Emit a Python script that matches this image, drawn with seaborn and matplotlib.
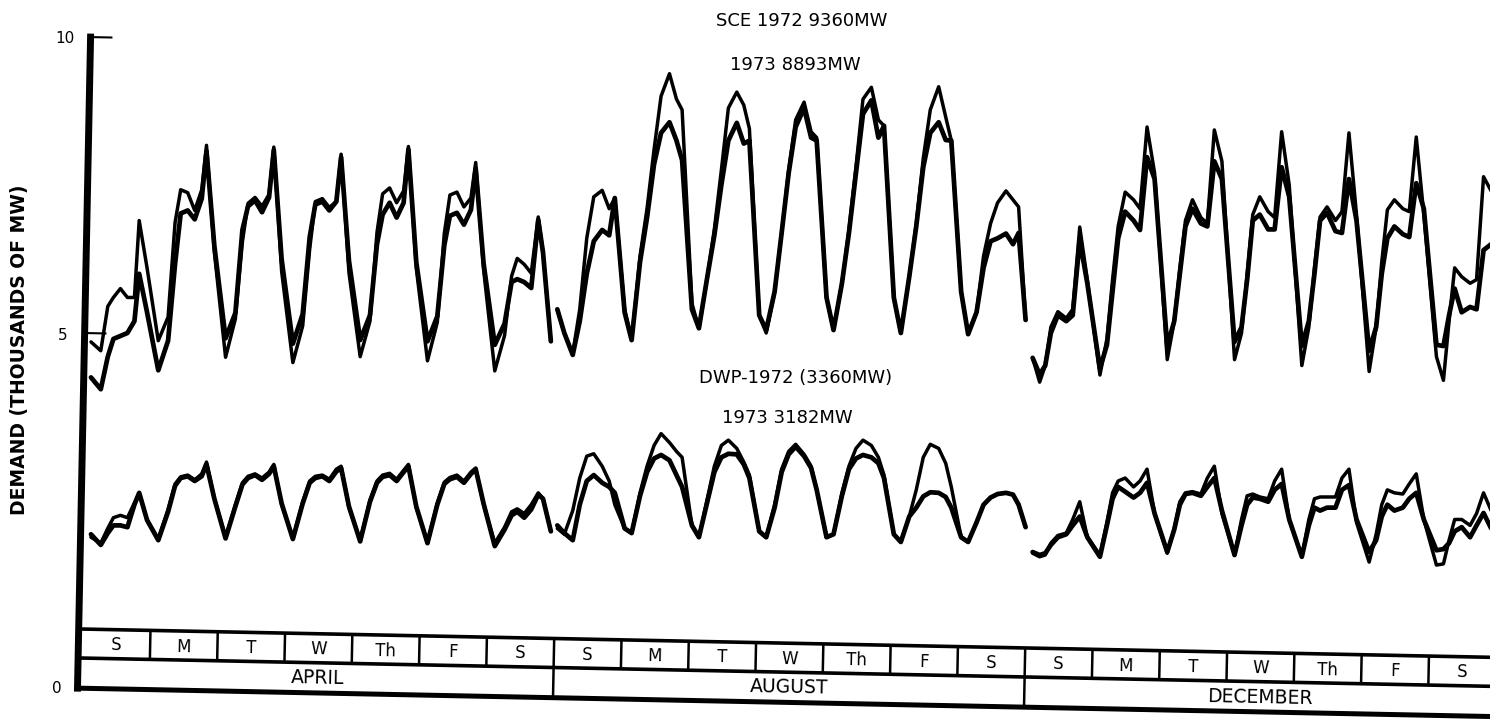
import matplotlib
matplotlib.use("Agg")
import matplotlib.pyplot as plt
import matplotlib.transforms as mtransforms
import pandas as pd
import seaborn as sns

# ---------------- data ----------------
# hour-of-day sample offsets used for each week (chart time frame)
GRID_APR = [3.2, 6.7, 9.2, 11.2, 13.7, 16.2, 18.7, 20.4, 23.2]
GRID_AUG = [1.5, 4, 7, 9.5, 12, 14.5, 17.5, 20, 22]
GRID_DEC = [3, 5.5, 7.5, 9.5, 12, 15, 17.3, 19.8, 22.5]
WEEK_START = {"APRIL": 0, "AUGUST": 168, "DECEMBER": 336}
AUG_TAIL = [168.5]          # August trace ends just after its last sample

days = ["S", "M", "T", "W", "Th", "F", "S"]
months = ["APRIL", "AUGUST", "DECEMBER"]

# SCE demand, thousands of MW
sce72_apr = [4.85, 4.7, 5.45, 5.6, 5.75, 5.6, 5.6, 6.9, 6.1,
             4.87, 5.27, 6.87, 7.42, 7.37, 7.07, 7.42, 8.17, 6.37,
             4.59, 5.24, 6.54, 7.19, 7.29, 7.14, 7.34, 8.14, 6.04,
             4.5, 5.12, 6.42, 7.22, 7.27, 7.12, 7.22, 8.02, 6.02,
             4.6, 5.2, 6.7, 7.35, 7.45, 7.2, 7.4, 8.15, 6.1,
             4.53, 5.18, 6.68, 7.33, 7.38, 7.13, 7.28, 7.88, 6.08,
             4.36, 4.96, 5.96, 6.26, 6.16, 6.01, 6.96, 6.36, 4.86]
sce73_apr = [4.25, 4.05, 4.6, 4.9, 4.95, 5.0, 5.2, 6.0, 5.35,
             4.37, 4.87, 6.17, 7.02, 7.07, 6.92, 7.27, 8.07, 6.47,
             4.91, 5.34, 6.74, 7.14, 7.24, 7.04, 7.29, 8.09, 6.24,
             4.82, 5.32, 6.62, 7.17, 7.22, 7.07, 7.22, 7.97, 6.22,
             4.88, 5.3, 6.5, 7.0, 7.2, 6.95, 7.2, 8.1, 6.2,
             4.86, 5.28, 6.48, 6.98, 7.03, 6.83, 7.08, 7.78, 6.18,
             4.8, 5.16, 5.86, 5.91, 5.86, 5.76, 6.91, 6.36, 4.86]
sce72_aug = [5.4, 5.0, 4.65, 5.4, 6.6, 7.3, 7.41, 7.1, 7.28,
             5.4, 4.88, 6.3, 7.1, 8.1, 9.0, 9.38, 8.95, 8.77,
             5.5, 5.08, 5.95, 6.75, 7.75, 8.8, 9.07, 8.85, 8.45,
             5.3, 5.0, 5.7, 6.7, 7.75, 8.6, 8.9, 8.4, 8.3,
             5.6, 5.05, 5.84, 6.75, 7.8, 8.95, 9.15, 8.6, 8.5,
             5.6, 5.0, 5.95, 6.85, 7.95, 8.77, 9.16, 8.65, 8.25,
             5.7, 4.98, 5.35, 6.3, 6.85, 7.2, 7.4, 7.25, 7.13,
             5.22]
sce73_aug = [5.4, 5.0, 4.63, 5.2, 6.0, 6.55, 6.74, 6.65, 7.28,
             5.35, 4.88, 6.2, 6.95, 7.85, 8.38, 8.56, 8.25, 7.92,
             5.4, 5.08, 5.95, 6.65, 7.5, 8.25, 8.55, 8.2, 8.25,
             5.3, 5.05, 5.7, 6.69, 7.7, 8.48, 8.8, 8.3, 8.25,
             5.6, 5.05, 5.84, 6.69, 7.7, 8.7, 8.93, 8.3, 8.5,
             5.6, 5.0, 5.95, 6.8, 7.8, 8.38, 8.56, 8.26, 8.25,
             5.7, 4.98, 5.35, 6.1, 6.55, 6.6, 6.68, 6.5, 6.69,
             5.22]
sce72_dec = [4.58, 4.17, 4.45, 5.1, 5.36, 5.25, 5.4, 6.79, 5.9,
             4.29, 4.9, 5.9, 6.8, 7.38, 7.25, 7.1, 8.48, 7.7,
             4.55, 5.2, 6.1, 6.9, 7.25, 6.95, 6.85, 8.43, 7.9,
             4.55, 5.0, 6.0, 7.0, 7.3, 7.05, 6.95, 8.4, 7.5,
             4.45, 5.1, 6.1, 6.96, 7.13, 6.9, 7.05, 8.38, 7.0,
             4.35, 5.1, 6.2, 7.08, 7.25, 7.1, 7.05, 8.31, 7.0,
             4.6, 4.2, 5.2, 6.1, 5.95, 5.84, 5.9, 7.64, 7.4]
sce73_dec = [4.58, 4.3, 4.45, 5.0, 5.3, 5.2, 5.3, 6.57, 5.84,
             4.4, 4.8, 5.7, 6.6, 7.05, 6.9, 6.74, 7.97, 7.6,
             4.78, 5.2, 6.0, 6.8, 7.1, 6.85, 6.8, 7.9, 7.6,
             4.85, 5.1, 5.9, 6.9, 7.0, 6.75, 6.75, 7.8, 7.3,
             4.78, 5.2, 6.0, 6.9, 7.03, 6.72, 6.69, 7.6, 6.9,
             4.7, 5.1, 6.0, 6.6, 6.8, 6.67, 6.62, 7.53, 7.1,
             4.8, 4.78, 5.3, 5.75, 5.35, 5.44, 5.4, 6.4, 6.5]

# DWP demand, thousands of MW
dwp72_apr = [1.55, 1.45, 1.7, 1.88, 1.92, 1.88, 2.13, 2.3, 1.84,
             1.52, 2.02, 2.45, 2.57, 2.6, 2.52, 2.62, 2.82, 2.2,
             1.55, 2.1, 2.47, 2.58, 2.62, 2.55, 2.65, 2.78, 2.1,
             1.53, 2.15, 2.5, 2.58, 2.6, 2.53, 2.7, 2.75, 2.05,
             1.5, 2.18, 2.5, 2.6, 2.63, 2.53, 2.68, 2.78, 2.05,
             1.47, 2.13, 2.48, 2.56, 2.6, 2.5, 2.65, 2.72, 2.1,
             1.45, 1.72, 1.98, 2.03, 1.95, 2.1, 2.3, 2.2, 1.65]
dwp73_apr = [1.6, 1.42, 1.62, 1.75, 1.75, 1.72, 2.1, 2.3, 1.84,
             1.5, 1.98, 2.42, 2.55, 2.58, 2.5, 2.58, 2.78, 2.2,
             1.53, 2.07, 2.44, 2.55, 2.6, 2.52, 2.62, 2.75, 2.12,
             1.52, 2.12, 2.47, 2.55, 2.58, 2.5, 2.66, 2.72, 2.07,
             1.48, 2.15, 2.47, 2.57, 2.6, 2.5, 2.65, 2.75, 2.07,
             1.45, 2.1, 2.45, 2.53, 2.57, 2.47, 2.62, 2.7, 2.12,
             1.4, 1.68, 1.92, 1.98, 1.88, 2.02, 2.27, 2.2, 1.65]
dwp72_aug = [1.7, 1.6, 2.0, 2.55, 2.92, 2.96, 2.75, 2.5, 2.1,
             1.7, 1.62, 2.3, 2.75, 3.1, 3.3, 3.15, 3.0, 2.9,
             1.75, 1.55, 2.2, 2.75, 3.1, 3.19, 3.05, 2.82, 2.6,
             1.65, 1.55, 2.1, 2.7, 3.0, 3.12, 2.95, 2.75, 2.35,
             1.55, 1.6, 2.3, 2.75, 3.05, 3.19, 3.1, 2.9, 2.6,
             1.6, 1.47, 1.9, 2.35, 2.9, 3.12, 3.05, 2.8, 2.4,
             1.55, 1.47, 1.8, 2.1, 2.22, 2.28, 2.3, 2.27, 2.1,
             1.72]
dwp73_aug = [1.75, 1.62, 1.5, 2.1, 2.5, 2.6, 2.47, 2.4, 2.3,
             1.7, 1.62, 2.25, 2.65, 2.88, 2.94, 2.85, 2.6, 2.4,
             1.75, 1.55, 2.15, 2.65, 2.9, 2.96, 2.95, 2.78, 2.55,
             1.65, 1.55, 2.05, 2.65, 2.95, 3.08, 2.92, 2.72, 2.35,
             1.55, 1.6, 2.25, 2.7, 2.88, 2.94, 2.9, 2.8, 2.55,
             1.6, 1.47, 1.9, 2.05, 2.24, 2.31, 2.3, 2.23, 2.05,
             1.55, 1.47, 1.8, 2.1, 2.22, 2.28, 2.3, 2.27, 2.1,
             1.72]
dwp72_dec = [1.28, 1.22, 1.25, 1.45, 1.58, 1.62, 1.85, 2.15, 1.55,
             1.25, 1.8, 2.3, 2.5, 2.55, 2.4, 2.5, 2.7, 1.95,
             1.28, 1.7, 2.15, 2.3, 2.32, 2.28, 2.55, 2.75, 1.95,
             1.25, 1.85, 2.25, 2.28, 2.23, 2.2, 2.5, 2.7, 1.85,
             1.22, 1.85, 2.2, 2.23, 2.23, 2.23, 2.55, 2.7, 1.8,
             1.13, 1.6, 2.1, 2.35, 2.3, 2.28, 2.45, 2.62, 1.85,
             1.08, 1.1, 1.5, 1.85, 1.85, 1.75, 1.95, 2.3, 2.0]
dwp73_dec = [1.3, 1.25, 1.28, 1.42, 1.55, 1.6, 1.75, 1.9, 1.55,
             1.22, 1.75, 2.2, 2.4, 2.32, 2.22, 2.3, 2.47, 1.95,
             1.3, 1.68, 2.1, 2.28, 2.3, 2.25, 2.4, 2.55, 2.0,
             1.25, 1.75, 2.1, 2.22, 2.2, 2.15, 2.35, 2.45, 1.85,
             1.22, 1.75, 2.05, 2.0, 2.05, 2.05, 2.35, 2.43, 1.85,
             1.3, 1.5, 1.9, 2.1, 2.0, 2.05, 2.2, 2.3, 1.85,
             1.33, 1.35, 1.45, 1.65, 1.72, 1.55, 1.75, 1.96, 1.7]

titles = ["SCE 1972 9360MW", "1973 8893MW", "DWP-1972 (3360MW)", "1973 3182MW"]
ylabel = "DEMAND (THOUSANDS OF MW)"

# ---------------- assemble a tidy table ----------------
rows = []


def add(utility, year, month, grid, vals, tail=()):
    start = WEEK_START[month]
    hours = [start + 24 * d + t for d in range(7) for t in grid] + [start + h for h in tail]
    for h, v in zip(hours, vals):
        rows.append(dict(utility=utility, year=year, month=month, hour=h, value=v))


add("SCE", 1972, "APRIL", GRID_APR, sce72_apr)
add("SCE", 1973, "APRIL", GRID_APR, sce73_apr)
add("SCE", 1972, "AUGUST", GRID_AUG, sce72_aug, AUG_TAIL)
add("SCE", 1973, "AUGUST", GRID_AUG, sce73_aug, AUG_TAIL)
add("SCE", 1972, "DECEMBER", GRID_DEC, sce72_dec)
add("SCE", 1973, "DECEMBER", GRID_DEC, sce73_dec)
add("DWP", 1972, "APRIL", GRID_APR, dwp72_apr)
add("DWP", 1973, "APRIL", GRID_APR, dwp73_apr)
add("DWP", 1972, "AUGUST", GRID_AUG, dwp72_aug, AUG_TAIL)
add("DWP", 1973, "AUGUST", GRID_AUG, dwp73_aug, AUG_TAIL)
add("DWP", 1972, "DECEMBER", GRID_DEC, dwp72_dec)
add("DWP", 1973, "DECEMBER", GRID_DEC, dwp73_dec)
df = pd.DataFrame(rows)

# ---------------- figure ----------------
sns.set_style("white")
plt.rcParams["font.family"] = ["DejaVu Sans"]
plt.rcParams["text.color"] = "black"

W, H = 1490, 719
fig = plt.figure(figsize=(W / 100, H / 100), dpi=100)
ax = fig.add_axes([77 / W, 1 - 688.2 / H, 1 - 77 / W, (688.2 - 1.48) / H])

LW = {1972: 2.5, 1973: 3.4}
for (util, year, month), sub in df.groupby(["utility", "year", "month"]):
    sns.lineplot(data=sub, x="hour", y="value", ax=ax, color="black",
                 linewidth=LW[year], estimator=None, sort=False, legend=False,
                 solid_joinstyle="round", solid_capstyle="round")

ax.set_xlim(-1.78, 502.1)
ax.set_ylim(-1.0, 10.6)
ax.set_axis_off()

# the day/month strip and the y axis are slightly tilted in the original scan
rot = mtransforms.Affine2D().rotate_deg_around(80, 31, -1.15)
tilt = ax.transData + rot
AX_X = -1.6
X_END = 512


def tline(xs, ys, lw, cap="butt"):
    ax.plot(xs, ys, color="black", lw=lw, solid_capstyle=cap,
            transform=tilt, clip_on=False)


tline([AX_X, AX_X], [-1.0, 10.0], 5.0, cap="projecting")   # y axis
tline([AX_X, 6.2], [10.0, 10.0], 1.5)                       # tick 10
tline([AX_X, 6.2], [5.0, 5.0], 1.5)                         # tick 5
tline([AX_X, X_END], [0.0, 0.0], 2.6)
tline([AX_X, X_END], [-0.49, -0.49], 2.6)
tline([AX_X, X_END], [-1.0, -1.0], 3.6)
for k in range(1, 22):
    bottom = -1.0 if k % 7 == 0 else -0.49
    tline([24 * k, 24 * k], [0.0, bottom], 1.8)

for w, m in enumerate(months):
    for d, lab in enumerate(days):
        ax.text(168 * w + 24 * d + 12, -0.35, lab, fontsize=12, ha="center",
                va="baseline", transform=tilt, rotation=-1.15,
                rotation_mode="anchor", clip_on=False)
    ax.text(168 * w + 84, -0.845, m, fontsize=13.5, ha="center", va="baseline",
            transform=tilt, rotation=-1.15, rotation_mode="anchor", clip_on=False)

# y tick labels and axis title
for lab, x, y in [("10", -2.5, 9.9), ("5", -5.0, 4.88), ("0", -7.1, -1.08)]:
    ax.text(x, y, lab, fontsize=11, ha="right", va="baseline", clip_on=False)
ax.text(-22.3, 4.71, ylabel, rotation=90, fontsize=13.5, fontweight="bold",
        ha="center", va="center", clip_on=False)

# series annotations
for txt, x, y in zip(titles, [256.8, 254.3, 254.3, 251.4], [10.19, 9.44, 4.155, 3.48]):
    ax.text(x, y, txt, fontsize=13, ha="center", va="baseline", clip_on=False)

fig.savefig("out.png", dpi=100)
